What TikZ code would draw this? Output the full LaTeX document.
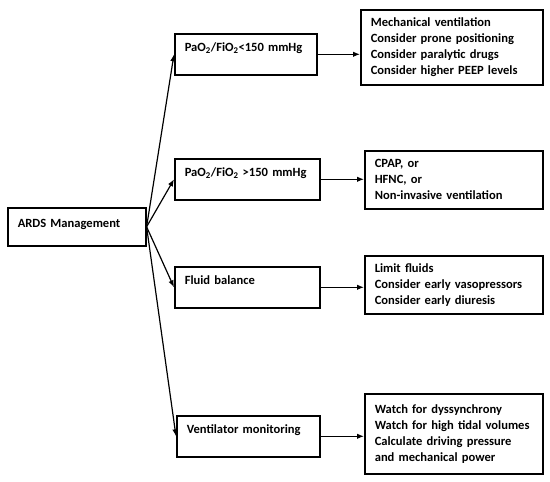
\documentclass[tikz,border=0pt]{standalone}
\usepackage{fontspec}
\setmainfont{Carlito}
\usetikzlibrary{arrows.meta}
\hyphenpenalty=10000
\tikzset{
  cond/.style={draw, line width=1.6pt, anchor=north west, inner xsep=10bp, inner ysep=0pt,
    text height=18bp, text depth=23bp, align=left},
  todo/.style={draw, line width=1.6pt, anchor=north west, inner xsep=10bp, inner ysep=0pt,
    align=left},
  link/.style={line width=1.2pt, -{Latex[length=7bp,width=5.5bp]}}
}
\begin{document}
\begin{tikzpicture}[x=1bp, y=-1bp, font=\fontsize{12.6}{16}\selectfont\bfseries]
  \useasboundingbox (0,0) rectangle (550,482);
  \node [cond, text width=118bp, text height=20bp, text depth=18bp] (ards) at (7, 207) {ARDS Management};

  \node [cond, text width=122bp] (low) at (174, 33) {PaO\textsubscript{2}/FiO\textsubscript{2}<150 mmHg};
  \draw [link] (ards.east) to (low.west);
  \node [cond, text width=125bp] (high) at (174, 158) {PaO\textsubscript{2}/FiO\textsubscript{2}~>150~mmHg};
  \draw [link] (ards.east) to (high.west);
  \node [cond, text width=125bp] (fluid) at (174, 266) {Fluid balance};
  \draw [link] (ards.east) to (fluid.west);
  \node [cond, text width=123bp] (vent) at (176, 415) {Ventilator monitoring};
  \draw [link] (ards.east) to (vent.west);

  \node [todo, text width=162bp, minimum height=75bp] (lowdo) at (360, 9)
    {Mechanical ventilation\\Consider prone positioning\\Consider paralytic drugs\\Consider higher PEEP levels};
  \draw [link] (low.east) to (low.east -| lowdo.west);
  \node [todo, text width=158bp, minimum height=58bp] (highdo) at (364, 150)
    {CPAP, or\\HFNC, or\\Non-invasive ventilation};
  \draw [link] (high.east) to (high.east -| highdo.west);
  \node [todo, text width=158bp, minimum height=58bp] (fluiddo) at (364, 255)
    {Limit fluids\\Consider early vasopressors\\Consider early diuresis};
  \draw [link] (fluid.east) to (fluid.east -| fluiddo.west);
  \node [todo, text width=158bp, minimum height=80bp] (ventdo) at (364, 393)
    {Watch for dyssynchrony\\Watch~for~high~tidal~volumes\\Calculate driving pressure\\and mechanical power};
  \draw [link] (vent.east) to (vent.east -| ventdo.west);
\end{tikzpicture}
\end{document}
